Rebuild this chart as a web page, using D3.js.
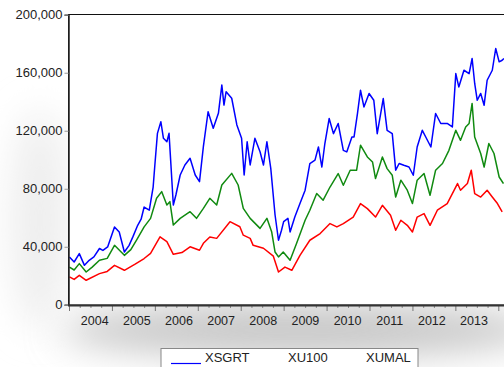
<!DOCTYPE html>
<html><head><meta charset="utf-8">
<script src="https://cdn.jsdelivr.net/npm/d3@7"></script>
<style>
html,body{margin:0;padding:0;background:#fff;overflow:hidden;}
svg{display:block;font-family:"Liberation Sans",Arial,sans-serif;}
</style></head>
<body>
<svg id="chart" width="504" height="367"></svg>
<script>
// ---- data (decimal year, value) ----
const seriesNames = ["XSGRT", "XU100", "XUMAL"];
const seriesColors = ["#0000ff", "#ff0000", "#108a10"];

const xsgrtTime = [2004.01,2004.12,2004.24,2004.36,2004.47,2004.58,2004.71,2004.79,2004.90,2005.06,2005.17,2005.29,2005.40,2005.49,2005.60,2005.68,2005.75,2005.87,2005.96,2006.00,2006.06,2006.14,2006.20,2006.28,2006.33,2006.37,2006.43,2006.49,2006.59,2006.70,2006.82,2006.94,2007.04,2007.13,2007.24,2007.36,2007.48,2007.56,2007.61,2007.66,2007.79,2007.91,2008.02,2008.08,2008.15,2008.22,2008.33,2008.45,2008.53,2008.61,2008.70,2008.80,2008.88,2008.95,2009.00,2009.10,2009.15,2009.26,2009.38,2009.50,2009.61,2009.73,2009.81,2009.89,2009.96,2010.06,2010.16,2010.27,2010.39,2010.47,2010.59,2010.64,2010.72,2010.79,2010.87,2010.99,2011.10,2011.18,2011.32,2011.41,2011.53,2011.61,2011.69,2011.80,2011.92,2012.02,2012.11,2012.23,2012.31,2012.43,2012.54,2012.66,2012.81,2012.93,2013.01,2013.08,2013.20,2013.32,2013.39,2013.45,2013.51,2013.59,2013.67,2013.74,2013.86,2013.94,2014.02,2014.09,2014.13];
const xsgrtValue = [33000,29500,35300,27200,30700,33000,38800,37500,39900,53700,50200,36400,41000,47000,54800,59000,67400,65200,81200,96400,118200,126200,114800,112400,118200,98600,68800,75700,89500,96400,101000,89500,84900,109000,133100,121700,132000,151500,137700,146900,142400,124000,114800,89500,112400,96400,114800,105500,96400,112400,94100,61900,44500,51400,57300,59600,50200,60500,69800,79000,97400,99700,108800,95000,111200,128400,118000,125000,106500,105400,115700,115700,131900,147900,136400,145700,141000,118000,142200,120300,118000,92800,97400,96200,95000,89300,108800,120300,115700,108800,131900,125000,125000,122600,159400,150200,161700,159400,169800,152600,141000,145700,137600,154800,161700,176700,167500,168600,169800];

const xu100Time = [2004.01,2004.12,2004.24,2004.40,2004.71,2004.89,2005.06,2005.29,2005.54,2005.75,2005.90,2006.12,2006.28,2006.43,2006.63,2006.82,2007.04,2007.13,2007.28,2007.44,2007.75,2007.98,2008.06,2008.22,2008.29,2008.53,2008.76,2008.88,2009.03,2009.19,2009.38,2009.61,2009.85,2010.08,2010.24,2010.39,2010.62,2010.79,2010.95,2011.14,2011.30,2011.49,2011.61,2011.73,2011.88,2012.00,2012.11,2012.27,2012.41,2012.58,2012.81,2013.05,2013.12,2013.28,2013.37,2013.45,2013.59,2013.74,2013.86,2013.98,2014.09];
const xu100Value = [19200,17500,20300,16900,21500,23000,27200,23800,28000,31900,35500,46900,43500,34800,36000,40000,37600,42400,46800,45800,57300,53800,48000,45800,41000,39000,33500,22600,26000,23800,34100,44500,49100,56000,53700,56000,60500,69800,66300,60500,68600,61700,51400,58300,54800,50200,60500,62900,54800,65200,69800,83600,79000,83600,92800,76700,74300,79000,74300,69800,64000];

const xumalTime = [2004.01,2004.12,2004.24,2004.40,2004.54,2004.71,2004.89,2005.06,2005.29,2005.44,2005.58,2005.75,2005.90,2006.04,2006.16,2006.28,2006.35,2006.43,2006.59,2006.82,2006.97,2007.13,2007.28,2007.44,2007.56,2007.79,2007.94,2008.06,2008.22,2008.45,2008.61,2008.72,2008.80,2008.88,2008.99,2009.15,2009.30,2009.50,2009.61,2009.77,2009.92,2010.08,2010.27,2010.39,2010.55,2010.70,2010.79,2010.95,2011.07,2011.14,2011.30,2011.41,2011.53,2011.61,2011.73,2011.88,2012.00,2012.11,2012.27,2012.41,2012.54,2012.70,2012.85,2013.01,2013.12,2013.24,2013.32,2013.39,2013.45,2013.59,2013.67,2013.78,2013.90,2014.02,2014.12];
const xumalValue = [26000,24000,28400,22600,26000,30700,32000,41000,34100,38000,45000,53700,59600,73400,78000,68800,71100,55000,59600,64200,59600,66500,73400,68800,82600,90600,82600,66500,59600,52700,59600,50400,36400,33000,36400,30700,42200,58300,65200,76700,72100,81200,90500,82400,92800,92800,110000,101900,98500,87000,101900,93900,89300,74300,85900,79000,69800,85900,90500,75500,92800,97400,106500,120300,113400,122600,125000,138800,115700,104300,95000,111200,104300,88100,83600];

const yTicks = [0, 40000, 80000, 120000, 160000, 200000];
const yearLabels = [2004,2005,2006,2007,2008,2009,2010,2011,2012,2013];

// ---- layout ----
const svg = d3.select("#chart");
const plotLeft = 68.5, plotTop = 14.5, plotBottom = 305;

const x = d3.scaleLinear().domain([2004, 2014]).range([69, 498.3]);
const y = d3.scaleLinear().domain([0, 200000]).range([304.8, 14.7]);
const labelX = d3.scaleLinear().domain([2004, 2013]).range([94.7, 474]);

// background shadow
const defs = svg.append("defs");
const f = defs.append("filter").attr("id","blur").attr("x","-50%").attr("y","-50%").attr("width","200%").attr("height","200%");
f.append("feGaussianBlur").attr("stdDeviation", 18);
svg.append("ellipse").attr("cx", 300).attr("cy", 330).attr("rx", 240).attr("ry", 28)
  .attr("fill", "#c8c8c8").attr("filter", "url(#blur)");
svg.append("ellipse").attr("cx", 40).attr("cy", 220).attr("rx", 30).attr("ry", 110)
  .attr("fill", "#eeeeee").attr("filter", "url(#blur)");

// plot area
svg.append("rect").attr("x", plotLeft).attr("y", plotTop).attr("width", 504 - plotLeft + 5)
  .attr("height", plotBottom - plotTop).attr("fill", "#fff").attr("stroke", "#111").attr("stroke-width", 1);

// lines
const series = [
  {name: "XSGRT", t: xsgrtTime, v: xsgrtValue, color: seriesColors[0]},
  {name: "XU100", t: xu100Time, v: xu100Value, color: seriesColors[1]},
  {name: "XUMAL", t: xumalTime, v: xumalValue, color: seriesColors[2]}
];
const line = d3.line().x(d => x(d[0])).y(d => y(d[1]));
[series[0], series[2], series[1]].forEach(s => {
  svg.append("path").datum(s.t.map((t, i) => [t, s.v[i]]))
    .attr("d", line).attr("fill", "none").attr("stroke", s.color)
    .attr("stroke-width", 1.5).attr("stroke-linejoin", "round");
});

// y axis
const yAxis = d3.axisLeft(y).tickValues(yTicks).tickFormat(d3.format(",")).tickSize(4).tickPadding(2);
const gy = svg.append("g").attr("transform", `translate(${plotLeft},0)`).call(yAxis);
gy.select(".domain").attr("stroke", "#222").attr("stroke-width", 1.5);
gy.selectAll(".tick line").attr("stroke", "#999");
gy.selectAll(".tick text").attr("font-size", 13).attr("fill", "#222")
  .attr("font-family", "'Liberation Sans',Arial,sans-serif");

// x axis: major year ticks and minor quarter ticks
const quarters = d3.range(2004, 2014.01, 0.25);
const xMinor = d3.axisBottom(x).tickValues(quarters.filter(q => q % 1 !== 0)).tickFormat("").tickSize(3);
const xMajor = d3.axisBottom(x).tickValues(d3.range(2004, 2015)).tickFormat("").tickSize(6);
const gxm = svg.append("g").attr("transform", `translate(0,${plotBottom})`).call(xMinor);
gxm.select(".domain").remove();
gxm.selectAll(".tick line").attr("stroke", "#888");
const gx = svg.append("g").attr("transform", `translate(0,${plotBottom})`).call(xMajor);
gx.select(".domain").remove();
gx.selectAll(".tick line").attr("stroke", "#777");
svg.append("line").attr("x1", plotLeft - 0.5).attr("x2", 504).attr("y1", plotBottom + 0.5).attr("y2", plotBottom + 0.5)
  .attr("stroke", "#333").attr("stroke-width", 2);

svg.append("g").selectAll("text").data(yearLabels).join("text")
  .attr("x", d => labelX(d)).attr("y", 325).attr("text-anchor", "middle")
  .attr("font-size", 12.5).attr("fill", "#222").text(d => d);

// legend
const lg = svg.append("g");
lg.append("rect").attr("x", 161).attr("y", 348.5).attr("width", 257).attr("height", 30)
  .attr("fill", "#fff").attr("stroke", "#888").attr("stroke-width", 1);
lg.append("line").attr("x1", 171).attr("x2", 201).attr("y1", 363.5).attr("y2", 363.5)
  .attr("stroke", seriesColors[0]).attr("stroke-width", 1.2);
const legendX = [205, 288, 366];
lg.selectAll("text.lbl").data(seriesNames).join("text").attr("class", "lbl")
  .attr("x", (d, i) => legendX[i]).attr("y", 362).attr("font-size", 13).attr("fill", "#222").text(d => d);
</script>
</body></html>
